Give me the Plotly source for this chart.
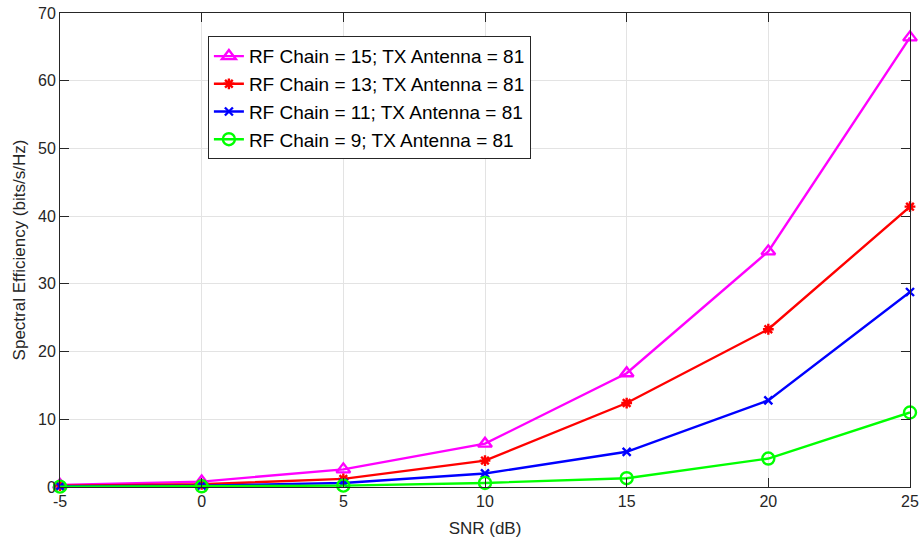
import plotly.graph_objects as go

snr_db = [-5, 0, 5, 10, 15, 20, 25]
snr_ticks = [-5, 0, 5, 10, 15, 20, 25]
snr_ticktext = ["-5", "0", "5", "10", "15", "20", "25"]
se_ticks = [0, 10, 20, 30, 40, 50, 60, 70]

se_rf15 = [0.3, 0.8, 2.6, 6.4, 16.8, 34.8, 66.4]
se_rf13 = [0.2, 0.4, 1.2, 3.9, 12.4, 23.3, 41.4]
se_rf11 = [0.1, 0.2, 0.6, 2.0, 5.2, 12.8, 28.8]
se_rf9 = [0.05, 0.1, 0.2, 0.6, 1.3, 4.2, 11.0]

series_names = [
    "RF Chain = 15; TX Antenna = 81",
    "RF Chain = 13; TX Antenna = 81",
    "RF Chain = 11; TX Antenna = 81",
    "RF Chain = 9; TX Antenna = 81",
]
series_values = [se_rf15, se_rf13, se_rf11, se_rf9]
series_colors = ["#ff00ff", "#ff0000", "#0000ff", "#00ff00"]
series_symbols = ["triangle-up-open", "asterisk-open", "x-thin-open", "circle-open"]
series_sizes = [12, 9, 8, 12]

FONT = "Liberation Sans, Arial, sans-serif"

fig = go.Figure()
for name, vals, col, sym, sz in zip(series_names, series_values, series_colors,
                                    series_symbols, series_sizes):
    fig.add_trace(go.Scatter(
        x=snr_db, y=vals, name=name, mode="lines+markers",
        line=dict(color=col, width=2.4),
        marker=dict(symbol=sym, size=sz, color=col,
                    line=dict(color=col, width=2.4)),
        cliponaxis=False,
    ))

axis_common = dict(
    showgrid=True, gridcolor="#e3e3e3", gridwidth=1,
    showline=True, linecolor="#262626", linewidth=1, mirror="ticks",
    ticks="inside", ticklen=9, tickcolor="#262626",
    zeroline=False, automargin=False,
    tickfont=dict(family=FONT, size=16, color="#262626"),
    title_font=dict(family=FONT, size=17, color="#262626"),
)

fig.update_xaxes(range=[-5, 25], tickvals=snr_ticks, ticktext=snr_ticktext,
                 title_text="SNR (dB)", title_standoff=12, **axis_common)
fig.update_yaxes(range=[0, 70], tickvals=se_ticks,
                 title_text="Spectral Efficiency (bits/s/Hz)", title_standoff=8,
                 **axis_common)

fig.update_layout(
    width=920, height=544,
    margin=dict(l=60, r=10, t=13, b=57),
    paper_bgcolor="white", plot_bgcolor="white",
    font=dict(family=FONT, color="#262626"),
    legend=dict(
        x=0.174, y=0.951, xanchor="left", yanchor="top",
        bgcolor="white", bordercolor="#262626", borderwidth=1,
        font=dict(family=FONT, size=19, color="black"),
        tracegroupgap=0,
    ),
)

fig.write_html("out.html")
